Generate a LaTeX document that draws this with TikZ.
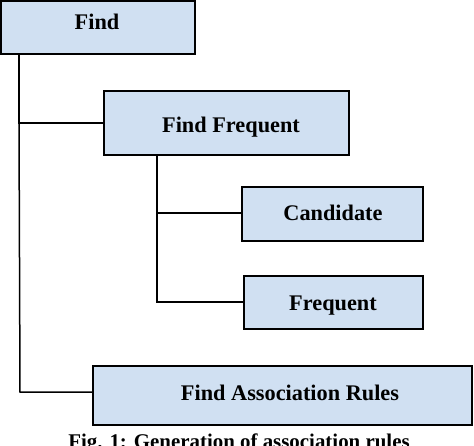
\documentclass[tikz,border=0pt]{standalone}
\usepackage{fontspec}
\setmainfont{Liberation Serif}
\definecolor{boxfill}{RGB}{208,224,242}
\begin{document}
\begin{tikzpicture}[x=1pt,y=-1pt,
  box/.style={draw=black,line width=1.8pt,fill=boxfill,inner sep=0pt},
  lbl/.style={font=\fontsize{22.3}{26}\selectfont\bfseries,inner sep=0pt,anchor=base},
  caplbl/.style={font=\fontsize{20.9}{24}\selectfont\bfseries,inner sep=0pt,anchor=base},
  conn/.style={line width=1.5pt,line join=miter}]
\useasboundingbox (0,0) rectangle (474,445);
\clip (0,0) rectangle (474,445);
\fill[white] (0,0) rectangle (474,445);
% boxes
\node[box,minimum width=194pt,minimum height=53pt] (find) at (98,27.5) {};
\node[lbl] (tfind) at (97,29.5) {Find};
\node[box,minimum width=245pt,minimum height=64pt] (ff) at (226.5,123) {};
\node[lbl] (tff) at (231,132) {Find Frequent};
\node[box,minimum width=181pt,minimum height=54pt] (cand) at (332.5,214) {};
\node[lbl] (tcand) at (333,220.5) {Candidate};
\node[box,minimum width=179pt,minimum height=53pt] (freq) at (333.5,302.5) {};
\node[lbl] (tfreq) at (333,310) {Frequent};
\node[box,minimum width=379pt,minimum height=59pt] (far) at (282.5,395.5) {};
\node[lbl] (tfar) at (290,400.5) {Find Association Rules};
\node[caplbl] (cap) at (239,448.5) {Fig. 1: Generation of association rules};
% connectors
\coordinate (a1) at (19,123);
\coordinate (a2) at (20,392);
\coordinate (b1) at (157,213);
\coordinate (b2) at (157,302);
\draw[conn] (find.south -| a1) -- (a1) -- (ff.west |- a1);
\draw[conn] (a1) -- (a2) -- (far.west |- a2);
\draw[conn] (ff.south -| b1) -- (b1) -- (cand.west |- b1);
\draw[conn] (b1) -- (b2) -- (freq.west |- b2);
\end{tikzpicture}
\end{document}
